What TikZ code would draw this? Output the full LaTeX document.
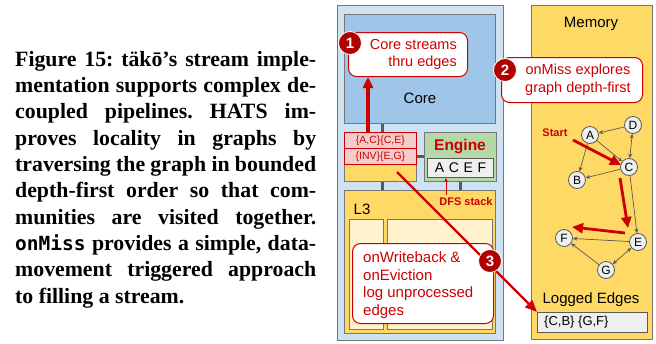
\documentclass[tikz,border=0pt]{standalone}
\usepackage{fontspec}
\setmainfont{Liberation Sans}
\newfontfamily\capfont{Liberation Serif}
\newfontfamily\capmono{DejaVu Sans Mono}
\usetikzlibrary{arrows.meta}
\definecolor{outerblue}{HTML}{CFE2F3}
\definecolor{coreblue}{HTML}{9FC5E8}
\definecolor{yel}{HTML}{FFD966}
\definecolor{lightyel}{HTML}{FFF2CC}
\definecolor{grn}{HTML}{B6D7A8}
\definecolor{pinkfill}{HTML}{F4CCCC}
\definecolor{dred}{HTML}{CC0000}
\definecolor{numred}{HTML}{B00000}
\definecolor{bord}{HTML}{777777}
\definecolor{lgray}{HTML}{EFEFEF}
\definecolor{conn}{HTML}{595959}
\frenchspacing
\begin{document}
\begin{tikzpicture}[x=1pt,y=-1pt,
  capline/.style={anchor=base west,inner sep=0pt,font=\capfont\bfseries\fontsize{21.8}{26}\selectfont\frenchspacing},
  box/.style={draw=bord,line width=1pt,anchor=north west,inner sep=0pt},
  callout/.style={draw=dred,fill=white,line width=1pt,rounded corners=8pt,anchor=north west,inner sep=0pt},
  redtxt/.style={text=dred,font=\fontsize{14.5}{18}\selectfont,inner sep=0pt},
  numdot/.style={circle,fill=numred,draw=white,line width=0.8pt,minimum size=23pt,inner sep=0pt,text=white,font=\bfseries\fontsize{15}{15}\selectfont},
  gnode/.style={circle,draw=conn,fill=lgray,line width=0.8pt,minimum size=17pt,inner sep=0pt,font=\fontsize{12}{12}\selectfont},
  garrow/.style={draw=conn,line width=0.7pt,-{Stealth[length=4.5pt,width=4pt]}},
  gboth/.style={draw=conn,line width=0.7pt,{Stealth[length=4.5pt,width=4pt]}-{Stealth[length=4.5pt,width=4pt]}},
  redarrow/.style={draw=dred,line width=2.8pt,-{Triangle[length=11pt,width=10pt]}},
  connbar/.style={draw=conn,line width=3pt},
  entry/.style={box,draw=dred,fill=pinkfill,line width=0.8pt,minimum width=72pt,minimum height=16pt,text=dred,font=\fontsize{10.5}{10.5}\selectfont}
]
\useasboundingbox (0,0) rectangle (656,343);

% ---------- caption ----------
\node[capline] (cap1) at (15,66) {\makebox[301pt][s]{Figure 15: täkō’s stream imple-}};
\node[capline] (cap2) at (15,92) {\makebox[301pt][s]{mentation supports complex de-}};
\node[capline] (cap3) at (15,118) {\makebox[301pt][s]{coupled pipelines. HATS im-}};
\node[capline] (cap4) at (15,145) {\makebox[301pt][s]{proves locality in graphs by}};
\node[capline] (cap5) at (15,171) {\makebox[301pt][s]{traversing the graph in bounded}};
\node[capline] (cap6) at (15,197) {\makebox[301pt][s]{depth-first order so that com-}};
\node[capline] (cap7) at (15,224) {\makebox[301pt][s]{munities are visited together.}};
\node[capline] (cap8) at (15,250) {\makebox[301pt][s]{{\capmono\bfseries\fontsize{19.5}{26}\selectfont onMiss} provides a simple, data-}};
\node[capline] (cap9) at (15,276) {\makebox[301pt][s]{movement triggered approach}};
\node[capline] (cap10) at (15,303) {to filling a stream.};

% ---------- left hierarchy ----------
\node[box,fill=outerblue,minimum width=166pt,minimum height=335pt] (outer) at (337,5) {};
\node[box,fill=coreblue,minimum width=151pt,minimum height=109pt] (core) at (344,14) {};
\node[font=\fontsize{15}{15}\selectfont,inner sep=0pt] (corelbl) at (420,98) {Core};

\node[box,fill=yel,minimum width=151pt,minimum height=143pt] (l3) at (344,190) {};
\node[font=\fontsize{15}{15}\selectfont,inner sep=0pt] (l3lbl) at (362,209) {L3};
\node[box,fill=lightyel,line width=0.8pt,minimum width=34pt,minimum height=110pt] (col1) at (348.5,219) {};
\node[box,fill=lightyel,line width=0.8pt,minimum width=105pt,minimum height=110pt] (col2) at (386.5,219) {};

\node[box,fill=yel,minimum width=72pt,minimum height=49pt] (l2) at (344,132) {};
\node[entry] (e1) at (344,132) {\{A,C\}\{C,E\}};
\node[entry] (e2) at (344,148) {\{INV\}\{E,G\}};

\node[box,fill=grn,draw=bord,minimum width=72pt,minimum height=49pt] (eng) at (424,132) {};
\node[text=dred,font=\bfseries\fontsize{15.5}{15.5}\selectfont,inner sep=0pt] (englbl) at (460,147) {Engine};
\node[box,fill=lgray,draw=conn,minimum width=66pt,minimum height=19pt,font=\fontsize{14}{14}\selectfont] (acef) at (427,158) {A\,\,C\,\,E\,\,F};

% connector bars
\draw[connbar] (core.south -| 382,0) -- (l2.north -| 382,0);
\draw[connbar] (l2.east |- 0,156) -- (eng.west |- 0,156);
\draw[connbar] (l2.south -| 382,0) -- (l3.north -| 382,0);
\draw[connbar] (eng.south -| 460,0) -- (l3.north -| 460,0);

% DFS stack
\node[text=dred,font=\bfseries\fontsize{11}{11}\selectfont,inner sep=0pt] (dfs) at (466,202) {DFS stack};
\coordinate (dfsS) at (446,195);
\draw[dred,line width=0.8pt,-{Stealth[length=4pt,width=3.5pt]}] (dfsS) -- (acef.south -| dfsS);

% callout 1
\node[callout,minimum width=119pt,minimum height=44pt] (call1) at (348,32) {};
\node[redtxt,anchor=east] (t1a) at (457,45) {Core streams};
\node[redtxt,anchor=east] (t1b) at (457,63) {thru edges};
\coordinate (a1s) at (368,133);
\draw[redarrow,line width=3.2pt] (a1s) -- (call1.south -| a1s);
\node[numdot] (n1) at (350,43) {1};

% callout 3
\node[callout,minimum width=141pt,minimum height=80pt] (call3) at (352,243) {};
\node[redtxt,anchor=west,font=\fontsize{15}{18}\selectfont] (t3a) at (363,257) {onWriteback \&};
\node[redtxt,anchor=west,font=\fontsize{15}{18}\selectfont] (t3b) at (363,275) {onEviction};
\node[redtxt,anchor=west,font=\fontsize{15}{18}\selectfont] (t3c) at (363,294) {log unprocessed};
\node[redtxt,anchor=west,font=\fontsize{15}{18}\selectfont] (t3d) at (363,312) {edges};

% ---------- memory ----------
\node[box,fill=yel,minimum width=121pt,minimum height=334pt] (mem) at (531,5) {};
\node[font=\fontsize{15}{15}\selectfont,inner sep=0pt] (memlbl) at (591,24) {Memory};

% callout 2
\node[callout,minimum width=141pt,minimum height=45pt] (call2) at (501,57) {};
\node[redtxt] (t2a) at (578,71) {onMiss explores};
\node[redtxt] (t2b) at (578,89) {graph depth-first};
\node[numdot] (n2) at (505,70) {2};

% graph
\node[gnode] (gA) at (590,135) {A};
\node[gnode] (gD) at (633,125) {D};
\node[gnode] (gC) at (629,167) {C};
\node[gnode] (gB) at (577,180) {B};
\node[gnode] (gF) at (564,238) {F};
\node[gnode] (gE) at (638,242) {E};
\node[gnode] (gG) at (606,270) {G};
\draw[garrow] (gD) -- (gA);
\draw[garrow] (gA) -- (gC);
\draw[gboth] (gD) -- (gC);
\draw[garrow] (gA) -- (gB);
\draw[garrow] (gC) -- (gB);
\draw[garrow] (gC) -- (gE);
\draw[garrow] (gE) -- (gF);
\draw[garrow] (gG) -- (gF);
\draw[gboth] (gG) -- (gE);

\node[text=dred,font=\bfseries\fontsize{11}{11}\selectfont,inner sep=0pt] (start) at (555,133) {Start};
\coordinate (rs1) at (573,140);
\coordinate (re1) at (621,165);
\coordinate (rs2) at (620,178);
\coordinate (re2) at (628,228);
\coordinate (rs3) at (625,233);
\coordinate (re3) at (572,227);
\draw[redarrow] (rs1) -- (re1);
\draw[redarrow] (rs2) -- (re2);
\draw[redarrow] (rs3) -- (re3);

% logged edges
\node[font=\fontsize{15}{15}\selectfont,inner sep=0pt] (loglbl) at (591,300) {Logged Edges};
\node[box,fill=lgray,draw=conn,minimum width=110pt,minimum height=20pt] (logbox) at (537,312) {};
\node[anchor=west,font=\fontsize{13}{13}\selectfont,inner sep=0pt] (logtxt) at (544,322) {\{C,B\} \{G,F\}};

% arrow 3
\coordinate (a3s) at (397,172);
\draw[dred,line width=2.2pt,-{Triangle[length=12pt,width=10pt]}] (a3s) -- (logbox.north west);
\node[numdot] (n3) at (490,261) {3};
\end{tikzpicture}
\end{document}
